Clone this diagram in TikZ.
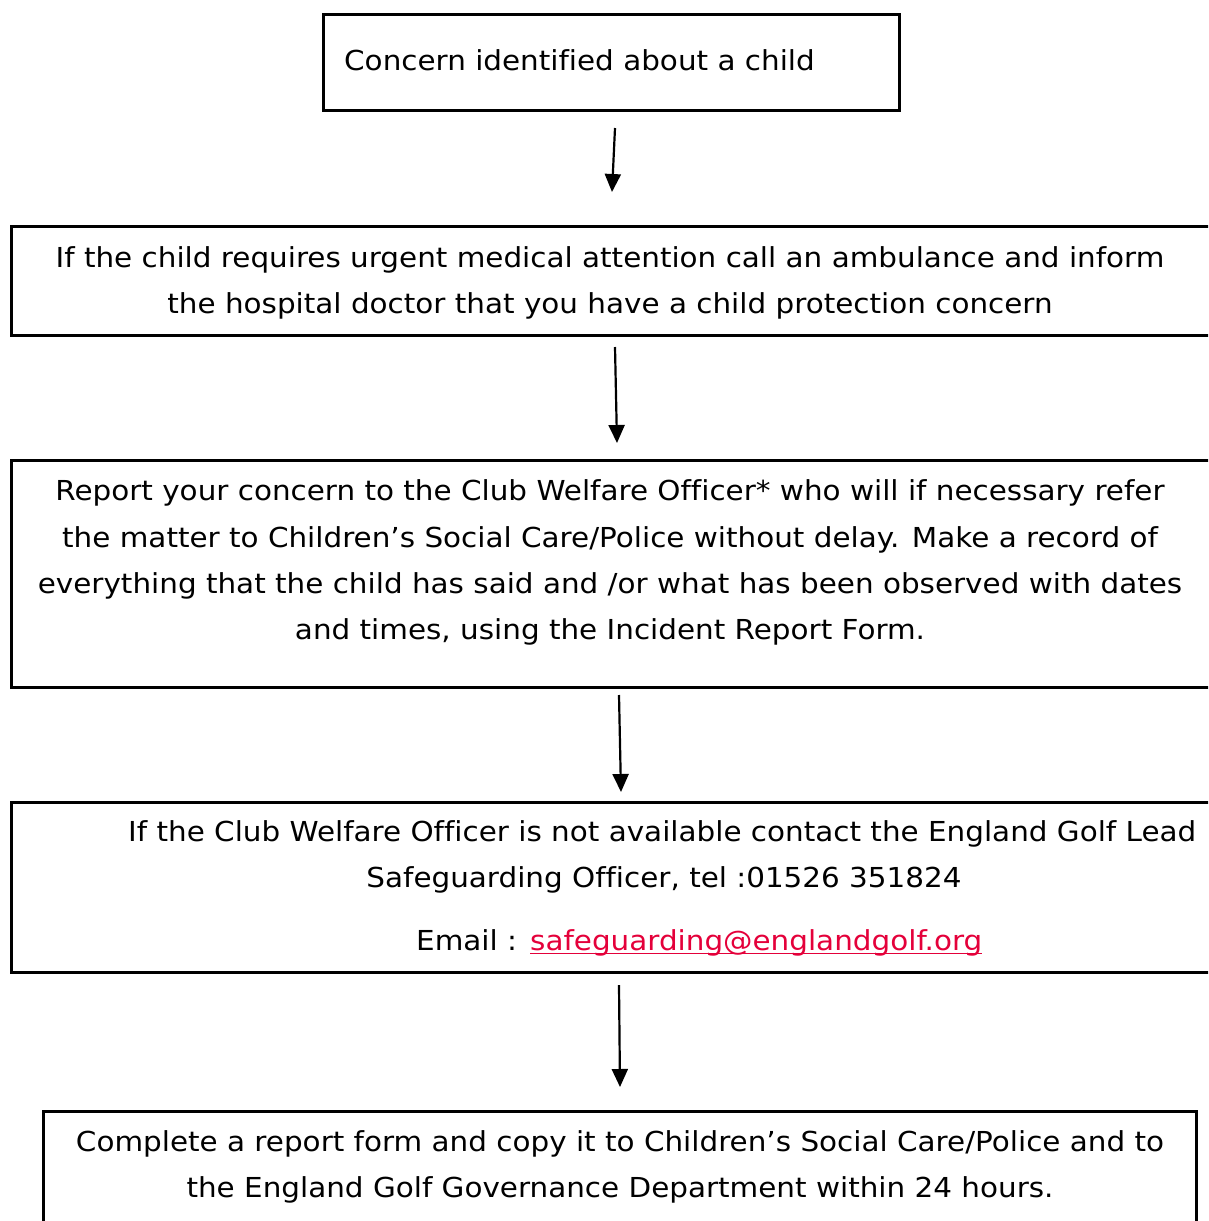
\documentclass[tikz,border=0pt]{standalone}
\usepackage{fontspec}
\setmainfont[FakeStretch=1.07,Ligatures=NoCommon]{DejaVu Sans}
\usetikzlibrary{arrows.meta}
\definecolor{linkred}{RGB}{228,0,58}
\begin{document}
\begin{tikzpicture}[x=1pt,y=-1pt,
  box/.style={draw=black,line width=3pt,inner sep=0pt,rectangle},
  txt/.style={inner sep=0pt,anchor=base,font=\fontsize{27.5}{33}\selectfont},
  txtw/.style={inner sep=0pt,anchor=base west,font=\fontsize{27.5}{33}\selectfont},
  arr/.style={line width=2.2pt,-{Triangle[width=16pt,length=18pt]}}]
\useasboundingbox (0,0) rectangle (1208,1221);
\clip (0,0) rectangle (1208,1221);
% boxes
\node[box,minimum width=576pt,minimum height=96pt] (b1) at (611,62) {};
\node[box,minimum width=1210pt,minimum height=109pt] (b2) at (616,280.5) {};
\node[box,minimum width=1210pt,minimum height=227pt] (b3) at (616,573.5) {};
\node[box,minimum width=1210pt,minimum height=170pt] (b4) at (616,887) {};
\node[box,minimum width=1153pt,minimum height=130pt] (b5) at (619.5,1176) {};
% texts
\node[txtw] (t1) at (344,70) {Concern identified about a child};
\node[txt] (t2a) at (610,267) {If the child requires urgent medical attention call an ambulance and inform};
\node[txt] (t2b) at (610,313) {the hospital doctor that you have a child protection concern};
\node[txt] (t3a) at (610,500) {Report your concern to the Club Welfare Officer* who will if necessary refer};
\node[txt] (t3b) at (610,547) {the matter to Children’s Social Care/Police without delay. Make a record of};
\node[txt] (t3c) at (610,593) {everything that the child has said and /or what has been observed with dates};
\node[txt] (t3d) at (610,639) {and times, using the Incident Report Form.};
\node[txtw] (t4a) at (128,841) {If the Club Welfare Officer is not available contact the England Golf Lead};
\node[txt] (t4b) at (664,887) {Safeguarding Officer, tel :01526 351824};
\node[txtw] (t4c) at (416,950) {Email :};
\node[txtw,text=linkred] (em) at (530,950) {safeguarding@englandgolf.org};
\draw[linkred,line width=1.4pt] ([yshift=-3.5pt]em.base west) -- ([yshift=-3.5pt]em.base east);
\node[txt] (t5a) at (620,1151) {Complete a report form and copy it to Children’s Social Care/Police and to};
\node[txt] (t5b) at (620,1197) {the England Golf Governance Department within 24 hours.};
% arrows
\coordinate (a1s) at (615,128); \coordinate (a1e) at (612,192);
\coordinate (a2s) at (615,347); \coordinate (a2e) at (617,443);
\coordinate (a3s) at (619,695); \coordinate (a3e) at (621,792);
\coordinate (a4s) at (619,985); \coordinate (a4e) at (620,1087);
\draw[arr] (a1s) -- (a1e);
\draw[arr] (a2s) -- (a2e);
\draw[arr] (a3s) -- (a3e);
\draw[arr] (a4s) -- (a4e);
\end{tikzpicture}
\end{document}
